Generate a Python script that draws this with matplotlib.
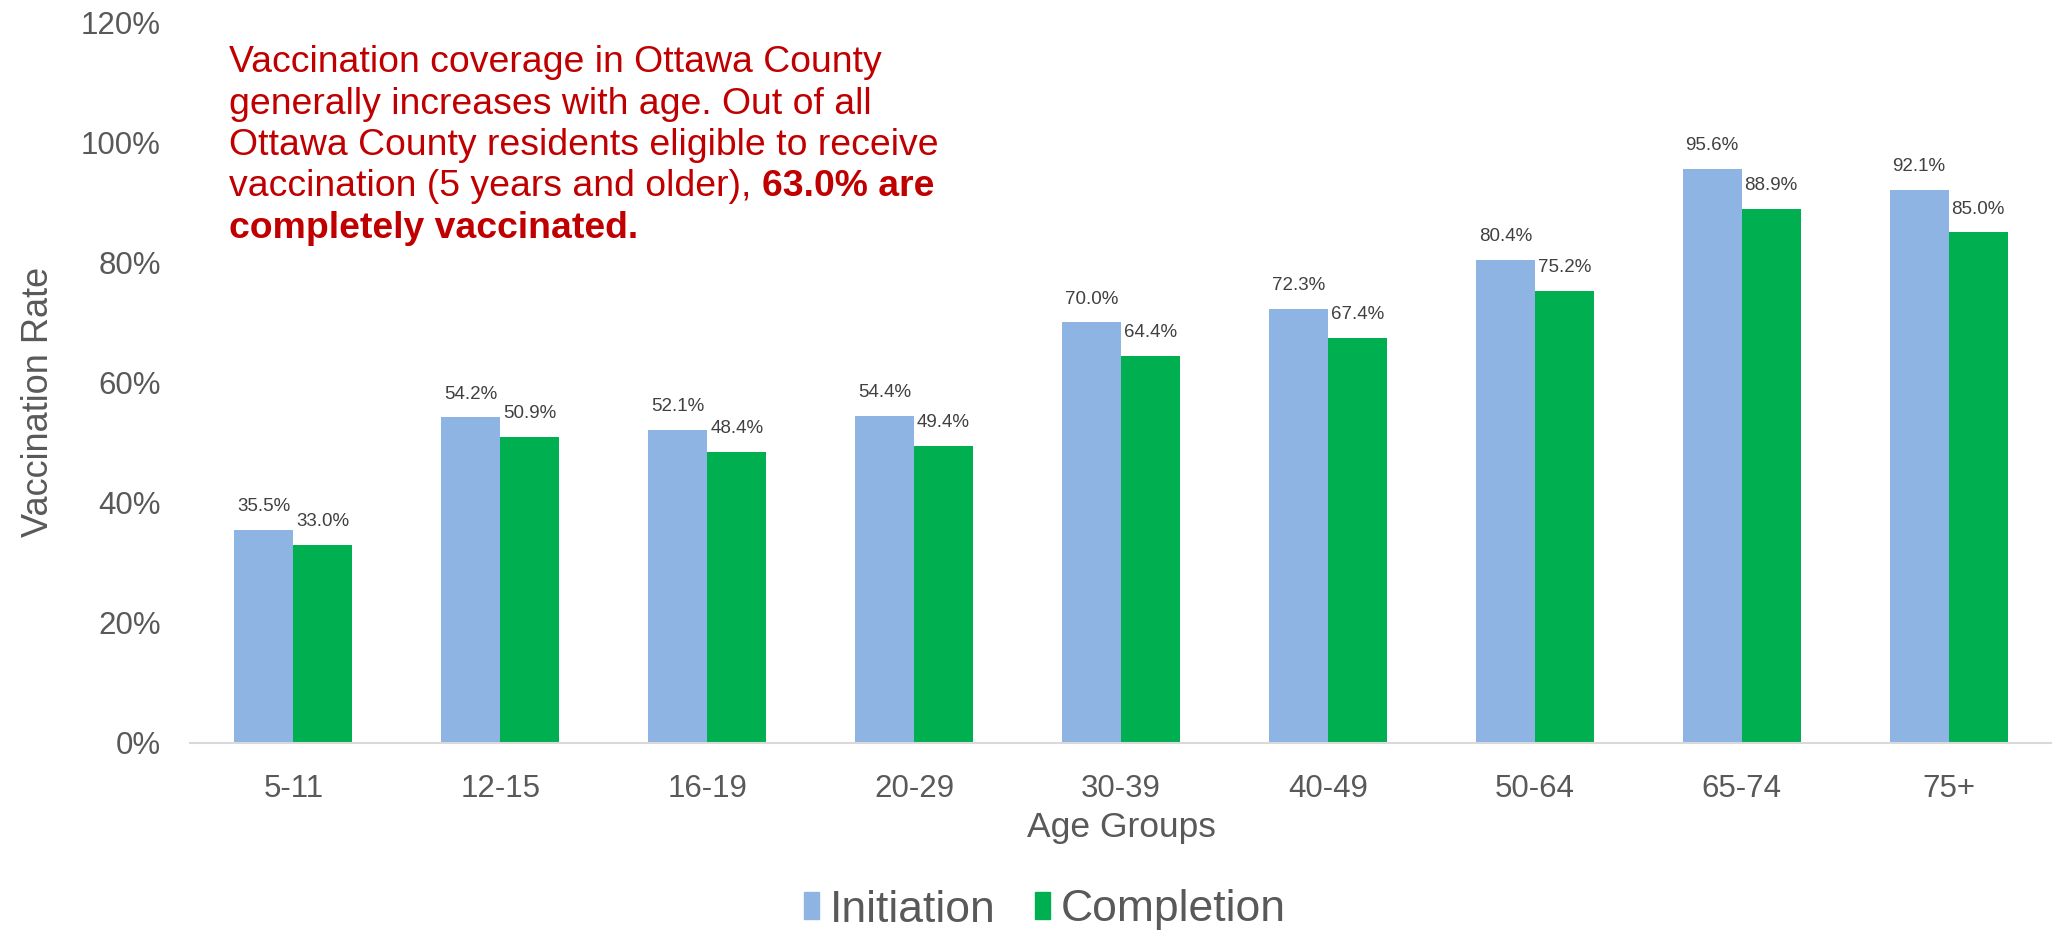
import matplotlib
matplotlib.use("Agg")
import matplotlib.pyplot as plt
import numpy as np
from matplotlib.patches import Patch

plt.rcParams['font.family'] = ['Liberation Sans', 'DejaVu Sans']

categories = ["5-11", "12-15", "16-19", "20-29", "30-39", "40-49", "50-64", "65-74", "75+"]
initiation = [35.5, 54.2, 52.1, 54.4, 70.0, 72.3, 80.4, 95.6, 92.1]
completion = [33.0, 50.9, 48.4, 49.4, 64.4, 67.4, 75.2, 88.9, 85.0]
yticks = [0, 20, 40, 60, 80, 100, 120]

note_lines = [
    "Vaccination coverage in Ottawa County",
    "generally increases with age. Out of all",
    "Ottawa County residents eligible to receive",
    "vaccination (5 years and older), ",
]
note_bold_tail = "63.0% are"
note_bold_line = "completely vaccinated."

c_init = "#8EB4E3"
c_comp = "#00B050"
gray = "#595959"
red = "#C00000"

W, H = 2052, 934
fig = plt.figure(figsize=(W/100, H/100), dpi=100)
ax = fig.add_axes([190/W, 191/H, 1 - 190/W, (743-22)/H])

x = np.arange(len(categories))
w = 0.285
b1 = ax.bar(x - w/2, initiation, w, color=c_init, label="Initiation")
b2 = ax.bar(x + w/2, completion, w, color=c_comp, label="Completion")

for bars, vals in ((b1, initiation), (b2, completion)):
    for r, v in zip(bars, vals):
        ax.annotate(f"{v:.1f}%", (r.get_x() + r.get_width()/2, v),
                    xytext=(0, 13.5), textcoords="offset points",
                    ha="center", va="baseline", fontsize=13.5, color="#404040")

ax.set_xlim(-0.5, len(categories) - 0.5)
ax.set_ylim(0, 120)
ax.set_yticks(yticks)
ax.set_yticklabels([f"{t}%" for t in yticks])
ax.set_xticks(x)
ax.set_xticklabels(categories)
ax.tick_params(axis="both", length=0, labelsize=22.5, labelcolor=gray)
ax.tick_params(axis="y", pad=21)
ax.tick_params(axis="x", pad=22)
for s in ("top", "right", "left"):
    ax.spines[s].set_visible(False)
ax.spines["bottom"].set_color("#D9D9D9")
ax.spines["bottom"].set_linewidth(1.5)

fig.text(39/W, 1 - 402/H, "Vaccination Rate", rotation=90, ha="center", va="center",
         fontsize=26, color=gray)
fig.text(1121/W, 1 - 828/H, "Age Groups", ha="center", va="center",
         fontsize=25.5, color=gray)

# annotation text, line by line (baselines in pixels from top)
fs_note = 26.9
x0 = 229/W
baselines = [72, 113.5, 155, 196.5, 238]
last = None
for i, line in enumerate(note_lines):
    last = fig.text(x0, 1 - baselines[i]/H, line, ha="left", va="baseline",
                    fontsize=fs_note, color=red)
fig.canvas.draw()
bb = last.get_window_extent()
fig.text(bb.x1/W, 1 - baselines[3]/H, note_bold_tail, ha="left", va="baseline",
         fontsize=fs_note, color=red, fontweight="bold")
fig.text(x0, 1 - baselines[4]/H, note_bold_line, ha="left", va="baseline",
         fontsize=fs_note, color=red, fontweight="bold")

handles = [Patch(color=c_init), Patch(color=c_comp)]
fig.legend(handles, ["Initiation", "Completion"], loc="center", bbox_to_anchor=(1045/W, 1 - 910/H),
           ncol=2, frameon=False, fontsize=32, labelcolor=gray,
           handlelength=0.33, handleheight=0.55, handletextpad=0.25, columnspacing=0.9)

fig.savefig("out.png", dpi=100)
